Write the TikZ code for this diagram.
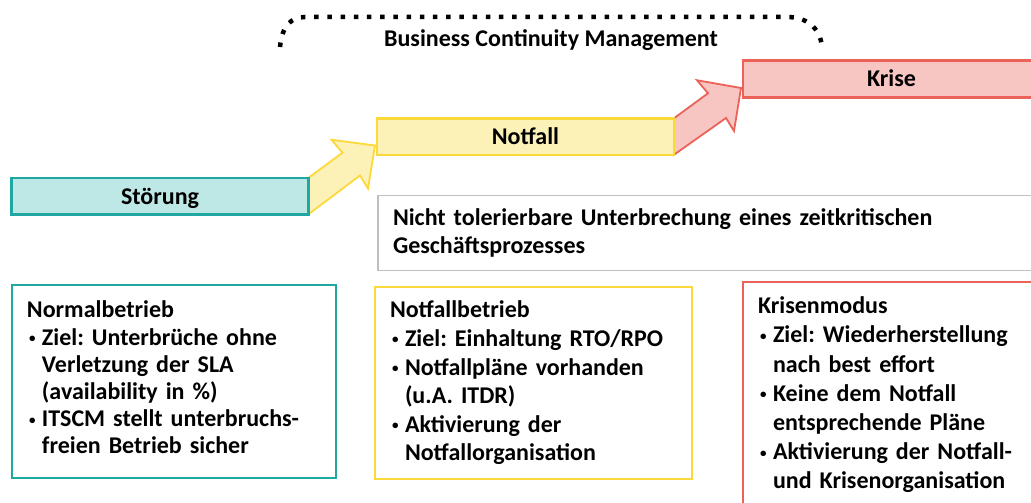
\documentclass[tikz,border=0pt]{standalone}
\usepackage{fontspec}
\setmainfont{Carlito}
\usetikzlibrary{calc}

\definecolor{tuerkis}{HTML}{1FA8A1}
\definecolor{tuerkishell}{HTML}{BDE8E5}
\definecolor{gelb}{HTML}{FCD93A}
\definecolor{gelbhell}{HTML}{FCF2B8}
\definecolor{rot}{HTML}{EB6259}
\definecolor{rothell}{HTML}{F7C5C2}
\definecolor{grau}{HTML}{BFBFBF}

\pgfdeclarelayer{background}
\pgfsetlayers{background,main}

\tikzset{
  stufe/.style={draw=#1, fill=#1hell, line width=2.5pt, minimum width=297pt, minimum height=36.5pt,
    inner sep=0pt, outer sep=0pt, text height=16pt, text depth=0pt, font=\bfseries\fontsize{24}{29}\selectfont},
  beschrieb/.style={draw=#1, line width=1.8pt, inner xsep=15pt, inner ysep=0pt, outer sep=0pt, align=left},
  punkte/.style={line width=4.5pt, dash pattern=on 4.5pt off 8.7pt},
}

\newcommand\pkt{\makebox[15pt][l]{\hspace{2pt}\raisebox{2.5pt}{\fontsize{13}{13}\selectfont\textbullet}}}
\newcommand\weiter{\hspace*{15pt}}

% Blockpfeil von einer Stufe zur naechsten
\newcommand\stufenpfeil[3]{%
  \begin{pgfonlayer}{background}
    \draw[draw=#3, fill=#3hell, line width=1.8pt] (#1.south east) -- (#1.north east) -- ++(34,-25) -- ++(-11,-13)
      -- ($(#2.west)+(-2,9)$) -- ++(-7,43) -- ++(-8,-13) -- cycle;
  \end{pgfonlayer}}

\frenchspacing
\begin{document}
\begin{tikzpicture}[x=1pt, y=-1pt]
	%%%%% Rahmen %%%%%
	\useasboundingbox (0,0) rectangle (1031,503);
	\clip (0,0) rectangle (1031,503);
	
	%%%%% BCM-Klammer %%%%%
	\draw[punkte] (280,47) .. controls (282,26) and (291,17) .. (305,17) -- (787,17) .. controls (806,17) and (820,27) .. (822,47);
	\node[anchor=base, font=\bfseries\fontsize{24}{29}\selectfont] (bcm) at (551,47) {Business Continuity Management};
	
	%%%%% Stufen %%%%%
	\node[stufe=tuerkis] (stoerung) at (160,196) {Störung};
	\node[stufe=gelb] (notfall) at (525.5,136.5) {Notfall};
	\node[stufe=rot] (krise) at (891.5,79) {Krise};
	
	\stufenpfeil{stoerung}{notfall}{gelb}
	\stufenpfeil{notfall}{krise}{rot}
	
	%%%%% Beschriebe %%%%%
	\node[beschrieb=grau, minimum width=667pt, minimum height=75pt, text width=637pt,
		font=\bfseries\fontsize{24}{28}\selectfont] (definition) at (711.5,233)
		{Nicht tolerierbare Unterbrechung eines zeitkritischen\\Geschäftsprozesses};
	
	\node[beschrieb=tuerkis, minimum width=324pt, minimum height=193pt, text width=294pt,
		font=\bfseries\fontsize{24}{27.2}\selectfont] (normalbetrieb) at (174,381.5)
		{Normalbetrieb\\
		\pkt Ziel: Unterbrüche ohne\\
		\weiter Verletzung der SLA\\
		\weiter (availability in \%)\\
		\pkt ITSCM stellt unterbruchs-\\
		\weiter freien Betrieb sicher\\[-19.2pt]\mbox{}};
	
	\node[beschrieb=gelb, minimum width=317pt, minimum height=192pt, text width=287pt,
		font=\bfseries\fontsize{24}{28.6}\selectfont] (notfallbetrieb) at (533.5,383)
		{Notfallbetrieb\\
		\pkt Ziel: Einhaltung RTO/RPO\\
		\pkt Notfallpläne vorhanden\\
		\weiter (u.A. ITDR)\\
		\pkt Aktivierung der\\
		\weiter Notfallorganisation};
	
	\node[beschrieb=rot, minimum width=300pt, minimum height=226pt, text width=270pt,
		font=\bfseries\fontsize{24}{29.2}\selectfont] (krisenmodus) at (893,395)
		{Krisenmodus\\
		\pkt Ziel: Wiederherstellung\\
		\weiter nach best effort\\
		\pkt Keine dem Notfall\\
		\weiter entsprechende Pläne\\
		\pkt Aktivierung der Notfall-\\
		\weiter und Krisenorganisation};
\end{tikzpicture}
\end{document}
